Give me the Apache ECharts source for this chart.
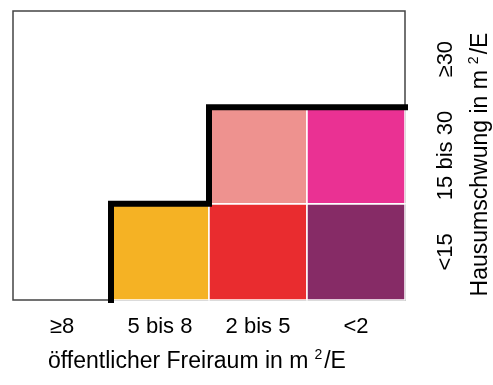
<!DOCTYPE html>
<html>
<head>
<meta charset="utf-8">
<script src="https://cdn.jsdelivr.net/npm/echarts@6/dist/echarts.min.js"></script>
<style>
  html, body { margin: 0; padding: 0; background: #fff; }
  #chart { width: 493px; height: 385px; }
</style>
</head>
<body>
<div id="chart"></div>
<script>
// categories
const freiraum = ['≥8', '5 bis 8', '2 bis 5', '<2']
const hausumschwung = ['<15', '15 bis 30', '≥30']

// colored cells: [column, row, color]
const cells = [
  [1, 0, '#F5B224'],
  [2, 0, '#E92C2F'],
  [3, 0, '#862B66'],
  [2, 1, '#EE928F'],
  [3, 1, '#EA3193'],
]

// step border, in cell-boundary units
const stepLine = [[1, 0], [1, 1], [2, 1], [2, 2], [4, 2]]

const font = 'Liberation Sans, Arial, sans-serif'
const nameRich = {
  a: { fontSize: 23, fontFamily: font, color: '#000', lineHeight: 27 },
  s: { fontSize: 14, fontFamily: font, color: '#000', verticalAlign: 'top', padding: [0, 2, 14, 6] },
}

const chart = echarts.init(document.getElementById('chart'))

chart.setOption({
  animation: false,
  grid: {
    left: 13, right: 88, top: 11, bottom: 85,
    outerBoundsMode: 'none', containLabel: false,
    show: true, borderColor: '#444', borderWidth: 1.5, backgroundColor: '#fff',
  },
  xAxis: [
    {
      type: 'category', data: freiraum,
      axisLine: { show: false }, axisTick: { show: false }, splitLine: { show: false },
      axisLabel: { color: '#000', fontSize: 22, fontFamily: font, margin: 16, interval: 0 },
      name: '{a|öffentlicher Freiraum in m}{s|2}{a|/E}',
      nameLocation: 'middle', nameGap: 48,
      nameTextStyle: { rich: nameRich, padding: [0, 24, 0, 0] },
    },
    { type: 'value', min: 0, max: 4, show: false },
  ],
  yAxis: [
    {
      type: 'category', data: hausumschwung, position: 'right',
      axisLine: { show: false }, axisTick: { show: false }, splitLine: { show: false },
      axisLabel: { color: '#000', fontSize: 22, fontFamily: font, rotate: 90, margin: 30, interval: 0, hideOverlap: false },
      name: '{a|Hausumschwung in m}{s|2}{a|/E}',
      nameLocation: 'middle', nameGap: 62, nameRotate: 90,
      nameTextStyle: { rich: nameRich, padding: [0, 18, 0, 0] },
    },
    { type: 'value', min: 0, max: 3, show: false, position: 'right' },
  ],
  series: [
    {
      type: 'custom',
      xAxisIndex: 0, yAxisIndex: 0,
      data: cells,
      renderItem: (params, api) => {
        const c = api.coord([api.value(0), api.value(1)])
        const s = api.size([1, 1])
        return {
          type: 'rect',
          shape: { x: c[0] - s[0] / 2, y: c[1] - s[1] / 2, width: s[0], height: s[1] },
          style: { fill: cells[params.dataIndex][2], stroke: '#fff', lineWidth: 1.5 },
        }
      },
    },
    {
      type: 'line',
      xAxisIndex: 1, yAxisIndex: 1,
      data: stepLine,
      showSymbol: false, symbol: 'none',
      lineStyle: { color: '#000', width: 6, cap: 'square', join: 'miter' },
      z: 5,
    },
  ],
})
</script>
</body>
</html>
